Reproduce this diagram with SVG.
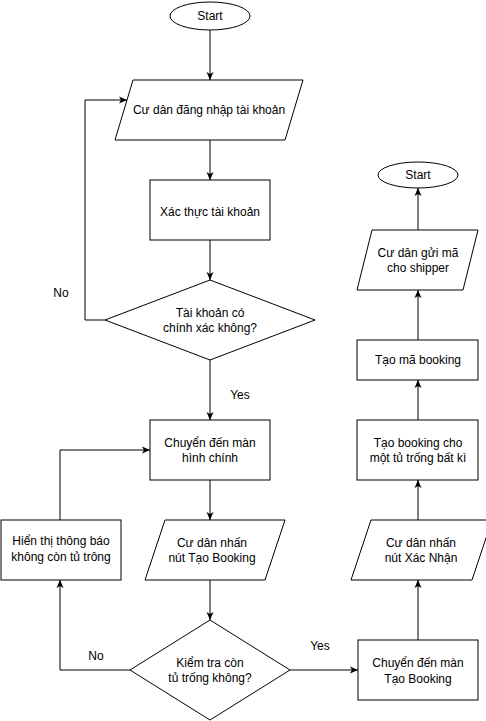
<svg xmlns="http://www.w3.org/2000/svg" width="486" height="721" viewBox="0 0 486 721">
<style>
.n{fill:#ffffff;stroke:#000000;stroke-width:1}
.c{fill:none;stroke:#000000;stroke-width:1}
text{font-family:"Liberation Sans",Arial,sans-serif;font-size:12px;fill:#000000;text-anchor:middle}
</style>
<defs>
<marker id="arr" viewBox="0 0 8 8" refX="8" refY="4" markerWidth="8" markerHeight="8" markerUnits="userSpaceOnUse" orient="auto">
<path d="M0,0.5 L8,4 L0,7.5 L2,4 z" fill="#000000"/>
</marker>
</defs>
<rect width="486" height="721" fill="#ffffff"/>
<g id="connectors">
<path class="c" d="M210,30 L210,80" marker-end="url(#arr)"/>
<path class="c" d="M210,140 L210,180" marker-end="url(#arr)"/>
<path class="c" d="M210,240 L210,280" marker-end="url(#arr)"/>
<path class="c" d="M105,320 L85,320 L85,100 L127,100" marker-end="url(#arr)"/>
<path class="c" d="M210,360 L210,420" marker-end="url(#arr)"/>
<path class="c" d="M210,480 L210,520" marker-end="url(#arr)"/>
<path class="c" d="M210,580 L210,620" marker-end="url(#arr)"/>
<path class="c" d="M130,670 L60,670 L60,580" marker-end="url(#arr)"/>
<path class="c" d="M60,520 L60,450 L150,450" marker-end="url(#arr)"/>
<path class="c" d="M290,670 L358,670" marker-end="url(#arr)"/>
<path class="c" d="M418,640 L418,580" marker-end="url(#arr)"/>
<path class="c" d="M418,520 L418,480" marker-end="url(#arr)"/>
<path class="c" d="M418,420 L418,380" marker-end="url(#arr)"/>
<path class="c" d="M418,340 L418,290" marker-end="url(#arr)"/>
<path class="c" d="M418,230 L418,188" marker-end="url(#arr)"/>
<text x="61" y="297">No</text>
<text x="240" y="399">Yes</text>
<text x="96" y="660">No</text>
<text x="320" y="650">Yes</text>
</g>
<g id="start1">
<ellipse class="n" cx="210" cy="16" rx="40" ry="14"/>
<text x="210" y="20">Start</text>
</g>
<g id="login">
<polygon class="n" points="133,80 303,80 285,140 115,140"/>
<text x="209" y="114">Cư dân đăng nhập tài khoản</text>
</g>
<g id="verify">
<rect class="n" x="150" y="180" width="120" height="60"/>
<text x="210" y="216">Xác thực tài khoản</text>
</g>
<g id="check-account">
<polygon class="n" points="210,280 315,320 210,360 105,320"/>
<text x="210" y="317">Tài khoản có</text>
<text x="210" y="332">chính xác không?</text>
</g>
<g id="home">
<rect class="n" x="150" y="420" width="120" height="60"/>
<text x="210" y="447">Chuyển đến màn</text>
<text x="210" y="462">hình chính</text>
</g>
<g id="press-booking">
<polygon class="n" points="165,520 285,520 265,580 145,580"/>
<text x="212" y="547">Cư dân nhấn</text>
<text x="212" y="562">nút Tạo Booking</text>
</g>
<g id="check-empty">
<polygon class="n" points="210,620 290,670 210,720 130,670"/>
<text x="210" y="667">Kiểm tra còn</text>
<text x="210" y="682">tủ trống không?</text>
</g>
<g id="notify">
<rect class="n" x="1" y="520" width="120" height="60"/>
<text x="61" y="545">Hiển thị thông báo</text>
<text x="61" y="561">không còn tủ trông</text>
</g>
<g id="booking-screen">
<rect class="n" x="358" y="640" width="120" height="60"/>
<text x="418" y="667">Chuyển đến màn</text>
<text x="418" y="683">Tạo Booking</text>
</g>
<g id="confirm">
<polygon class="n" points="371,520 492,520 472,580 351,580"/>
<text x="421" y="547">Cư dân nhấn</text>
<text x="421" y="562">nút Xác Nhận</text>
</g>
<g id="create-booking">
<rect class="n" x="357" y="420" width="121" height="60"/>
<text x="418" y="447">Tạo booking cho</text>
<text x="418" y="462">một tủ trống bất kì</text>
</g>
<g id="create-code">
<rect class="n" x="357" y="340" width="121" height="40"/>
<text x="418" y="364">Tạo mã booking</text>
</g>
<g id="send-code">
<polygon class="n" points="372,230 478,230 463,290 357,290"/>
<text x="418" y="257">Cư dân gửi mã</text>
<text x="418" y="272">cho shipper</text>
</g>
<g id="start2">
<ellipse class="n" cx="418" cy="175" rx="40" ry="13"/>
<text x="418" y="179">Start</text>
</g>
</svg>
